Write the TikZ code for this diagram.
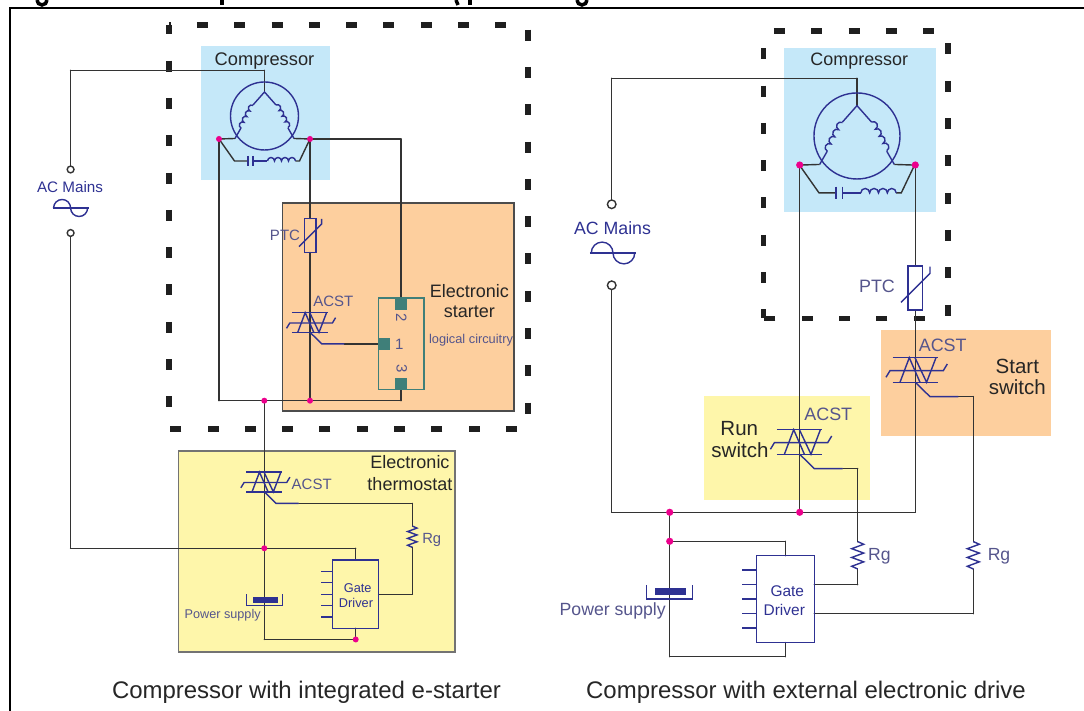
\documentclass[tikz,border=0pt]{standalone}
\usepackage{fontspec}
\setmainfont{Liberation Sans}
\RequirePackage{amsmath}
\RequirePackage{tikz}
\RequirePackage{tkz-euclide}

\definecolor{wirecol}{HTML}{333333}
\definecolor{symcol}{HTML}{2E3192}
\definecolor{labcol}{HTML}{55558C}
\definecolor{pinkdot}{HTML}{EC008C}
\definecolor{bluefill}{HTML}{C5E8F9}
\definecolor{orangefill}{HTML}{FDCF9E}
\definecolor{yellowfill}{HTML}{FEF6AA}
\definecolor{chipcol}{HTML}{3F7F79}

\tikzset{
  wire/.style={line width=.4pt,color=wirecol},
  sym/.style={line width=.4pt,color=symcol},
  boxdash/.style={line width=1.55pt,color=black!88},
  dark/.style={text=black!85,inner sep=0pt},
  slate/.style={text=labcol,inner sep=0pt},
  bluetext/.style={text=symcol,inner sep=0pt},
  sinewave/.pic={
    \draw[sym] (-.18,0) -- (.18,0);
    \draw[sym] (-.17,0) arc (180:0:.085) arc (180:360:.085);
  },
  zigzag/.pic={
    \draw[sym] (0,.137) -- (.06,.11) -- (-.06,.066) -- (.06,.022) -- (-.06,-.022) -- (.06,-.066) -- (-.06,-.11) -- (0,-.137);
  },
  thermistor/.pic={
    \draw[sym] (-.073,-.22) rectangle (.073,.22);
    \draw[sym] (-.143,-.143) -- (.147,.147) -- (.147,.213);
  },
  triac/.pic={
    \draw[sym] (-.227,.123) -- (.227,.123);
    \draw[sym] (-.227,-.123) -- (.227,-.123);
    \draw[sym] (-.153,-.123) -- (-.06,.123) -- (.047,-.123);
    \draw[sym] (.207,.123) -- (.113,-.123) -- (-.003,.123);
    \draw[sym] (-.293,-.073) -- (-.253,-.007) -- (.28,-.007) -- (.32,.06);
    \draw[sym] (0,-.123) -- (.147,-.267) -- (.43,-.267);
  },
  motor/.pic={
    \draw[sym] (0,0) circle (.34);
    \draw[sym] (-.115,.11) -- (0,.24) -- (.115,.11);
    \draw[sym] (-.235,-.12) arc (242:62:.032) arc (242:62:.032) arc (242:62:.032) arc (242:62:.032);
    \draw[sym] (.115,.11) arc (118:-62:.032) arc (118:-62:.032) arc (118:-62:.032) arc (118:-62:.032);
    \draw[sym] (-.235,-.12) -- (-.295,-.225);
    \draw[sym] (.235,-.12) -- (.295,-.225);
    \draw[wire] (-.455,-.23) -- (-.295,-.225);
    \draw[wire] (.455,-.23) -- (.295,-.225);
    \draw[wire] (-.455,-.23) -- (-.30,-.45) -- (-.165,-.45);
    \draw[wire] (.455,-.23) -- (.35,-.45) -- (.31,-.45);
    \draw[sym] (-.165,-.40) -- (-.165,-.50);
    \draw[sym] (-.115,-.40) -- (-.115,-.50);
    \draw[sym] (-.115,-.45) -- (.03,-.45);
    \draw[sym] (.03,-.45) arc (180:0:.035) arc (180:0:.035) arc (180:0:.035) arc (180:0:.035);
  }
}

\begin{document}
\begin{tikzpicture}
                \tkzInit[xmin=0,xmax=10.84,ymin=0,ymax=7.11]
                \tkzClip
                \useasboundingbox (0,0) rectangle (10.84,7.11);

                % coloured areas
                \fill[bluefill] (2.01,5.31) rectangle (3.30,6.65);
                \fill[bluefill] (7.84,4.993) rectangle (9.36,6.627);
                \filldraw[fill=orangefill,draw=black!70,line width=.45pt] (2.824,3.00) rectangle (5.14,5.077);
                \filldraw[fill=yellowfill,draw=black!55,line width=.45pt] (1.783,.59) rectangle (4.55,2.60);
                \fill[orangefill] (8.81,2.753) rectangle (10.51,3.81);
                \fill[yellowfill] (7.04,2.11) rectangle (8.70,3.15);

                % frame and what is left of the cut heading
                \draw[line width=.8pt,black] (.10,0) -- (.10,7.03) -- (10.84,7.03);
                \draw[line width=1pt,black] (.37,7.11) arc (180:360:.05);
                \draw[line width=1pt,black] (2.22,7.11) -- (2.22,7.06);
                \draw[line width=1pt,black] (4.56,7.11) -- (4.58,7.06);
                \draw[line width=1pt,black] (4.70,7.11) -- (4.70,7.06);
                \draw[line width=1pt,black] (5.77,7.11) arc (180:360:.05);

                % dashed enclosures
                \draw[boxdash,dash pattern=on 1.1mm off 2.63mm,dash phase=.93mm] (1.69,6.86) -- (5.28,6.86) -- (5.28,2.82) -- (1.69,2.82);
                \draw[boxdash,dash pattern=on 1.1mm off 2.63mm,dash phase=.16mm] (1.69,6.86) -- (1.69,2.82);
                \draw[boxdash,dash pattern=on 1.1mm off 2.63mm,dash phase=2.68mm] (7.635,6.80) -- (9.48,6.80) -- (9.48,3.925) -- (7.635,3.925);
                \draw[boxdash,dash pattern=on 1.1mm off 2.63mm,dash phase=2mm] (7.635,6.80) -- (7.635,3.925);

                % left circuit
                \tkzDefPoint(0.706,6.407){wA}
                \tkzDefPoint(2.645,6.407){wB}
                \tkzDefPoint(2.645,6.19){wC}
                \tkzDefPoint(0.706,5.415){tA}
                \tkzDefPoint(0.706,4.78){tB}
                \tkzDefPoint(0.706,1.627){wD}
                \tkzDefPoint(2.19,5.72){dA}
                \tkzDefPoint(3.10,5.72){dB}
                \tkzDefPoint(2.19,3.103){wE}
                \tkzDefPoint(4.01,3.103){wF}
                \tkzDefPoint(4.01,3.217){wG}
                \tkzDefPoint(4.01,5.72){wH}
                \tkzDefPoint(4.01,4.13){wI}
                \tkzDefPoint(3.10,4.925){pA}
                \tkzDefPoint(3.10,4.585){pB}
                \tkzDefPoint(3.10,3.103){dC}
                \tkzDefPoint(2.643,3.103){dD}
                \tkzDefPoint(3.444,3.67){gA}
                \tkzDefPoint(3.783,3.67){gB}
                \tkzDefPoint(2.643,1.627){dE}
                \tkzDefPoint(2.643,1.14){bA}
                \tkzDefPoint(2.643,1.083){bB}
                \tkzDefPoint(2.643,.715){wK}
                \tkzDefPoint(3.557,.715){dF}
                \tkzDefPoint(3.557,1.627){wL}
                \tkzDefPoint(3.557,1.51){wM}
                \tkzDefPoint(3.557,.827){wN}
                \tkzDefPoint(3.787,1.167){wO}
                \tkzDefPoint(4.123,1.167){wP}
                \tkzDefPoint(4.123,1.637){wQ}
                \tkzDefPoint(4.123,1.85){wR}
                \tkzDefPoint(4.123,2.076){wS}
                \tkzDefPoint(2.987,2.076){wT}

                \tkzDrawSegments[wire](tA,wA wA,wB wB,wC tB,wD wD,dE dE,wL wL,wM)
                \tkzDrawSegments[wire](dA,wE wE,wF wF,wG dB,wH wH,wI dB,pA pB,dC gA,gB)
                \tkzDrawSegments[wire](dD,bA bB,wK wK,dF wN,dF wO,wP wP,wQ wR,wS wS,wT)

                % chip with three pads
                \draw[chipcol,line width=.4pt] (3.783,3.217) rectangle (4.24,4.13);
                \fill[chipcol] (3.95,4.01) rectangle (4.073,4.13);
                \fill[chipcol] (3.783,3.61) rectangle (3.903,3.733);
                \fill[chipcol] (3.95,3.217) rectangle (4.073,3.333);

                % left symbols
                \pic[scale=1] at (2.645,5.95) {motor};
                \pic[scale=1] at (.706,5.03) {sinewave};
                \pic[scale=.78] at (3.102,4.755) {thermistor};
                \pic[scale=.8] at (3.10,3.885) {triac};
                \pic[scale=.8] at (2.643,2.29) {triac};
                \pic[scale=.78] at (4.123,1.743) {zigzag};
                \draw[sym] (3.323,.827) rectangle (3.787,1.51);
                \foreach \y in {1.397,1.283,1.167,1.053,.94}
                    \draw[sym] (3.21,\y) -- (3.323,\y);
                \fill[symcol] (2.527,1.083) rectangle (2.78,1.14);
                \draw[sym] (2.467,1.167) -- (2.467,1.053) -- (2.827,1.053) -- (2.827,1.167);

                % right circuit
                \tkzDefPoint(6.117,6.327){xA}
                \tkzDefPoint(8.57,6.327){xB}
                \tkzDefPoint(8.57,6.054){xC}
                \tkzDefPoint(6.117,5.067){tC}
                \tkzDefPoint(6.117,4.257){tD}
                \tkzDefPoint(6.117,1.987){xD}
                \tkzDefPoint(9.153,1.987){xE}
                \tkzDefPoint(7.997,5.46){dG}
                \tkzDefPoint(9.153,5.46){dH}
                \tkzDefPoint(7.997,1.987){dI}
                \tkzDefPoint(6.697,1.987){dJ}
                \tkzDefPoint(6.697,1.697){dK}
                \tkzDefPoint(9.153,4.45){pC}
                \tkzDefPoint(9.153,4.007){pD}
                \tkzDefPoint(9.583,3.143){xF}
                \tkzDefPoint(9.733,3.143){xG}
                \tkzDefPoint(9.733,1.693){xH}
                \tkzDefPoint(9.733,1.42){xI}
                \tkzDefPoint(9.733,.973){xJ}
                \tkzDefPoint(8.143,.973){xK}
                \tkzDefPoint(8.427,2.423){xL}
                \tkzDefPoint(8.577,2.423){xM}
                \tkzDefPoint(8.577,1.693){xN}
                \tkzDefPoint(8.577,1.42){xO}
                \tkzDefPoint(8.577,1.263){xP}
                \tkzDefPoint(8.143,1.263){xQ}
                \tkzDefPoint(6.697,1.227){bC}
                \tkzDefPoint(6.697,1.157){bD}
                \tkzDefPoint(6.697,.543){xR}
                \tkzDefPoint(7.853,.543){xS}
                \tkzDefPoint(7.853,.683){xT}
                \tkzDefPoint(7.853,1.697){xU}
                \tkzDefPoint(7.853,1.553){xV}

                \tkzDrawSegments[wire](tC,xA xA,xB xB,xC tD,xD xD,xE dG,dI dH,pC pD,xE)
                \tkzDrawSegments[wire](xF,xG xG,xH xI,xJ xJ,xK xL,xM xM,xN xO,xP xP,xQ)
                \tkzDrawSegments[wire](dJ,bC bD,xR xR,xS xS,xT dK,xU xU,xV)

                % right symbols
                \pic[scale=1.265] at (8.57,5.75) {motor};
                \pic[scale=1.28] at (6.13,4.58) {sinewave};
                \pic[scale=1] at (9.153,4.23) {thermistor};
                \pic[scale=1] at (9.153,3.41) {triac};
                \pic[scale=1] at (7.997,2.69) {triac};
                \pic[scale=1] at (8.577,1.557) {zigzag};
                \pic[scale=1] at (9.733,1.557) {zigzag};
                \draw[sym] (7.563,.683) rectangle (8.143,1.553);
                \foreach \y in {1.41,1.263,1.12,.973,.83}
                    \draw[sym] (7.423,\y) -- (7.563,\y);
                \fill[symcol] (6.547,1.157) rectangle (6.86,1.227);
                \draw[sym] (6.463,1.26) -- (6.463,1.12) -- (6.927,1.12) -- (6.927,1.26);

                % junctions and mains terminals
                \foreach \p in {dA,dB,dC,dD,dE,dF}
                    \fill[pinkdot] (\p) circle (.03);
                \foreach \p in {dG,dH,dI,dJ,dK}
                    \fill[pinkdot] (\p) circle (.036);
                \foreach \p in {tA,tB}
                    \filldraw[fill=white,draw=wirecol,line width=.4pt] (\p) circle (.034);
                \foreach \p in {tC,tD}
                    \filldraw[fill=white,draw=wirecol,line width=.4pt] (\p) circle (.043);

                % texts of the left drawing
                \node[dark,font=\fontsize{5.2}{6}\selectfont] (compL) at (2.645,6.50) {Compressor};
                \node[bluetext,font=\fontsize{4.33}{5}\selectfont] (mainsL) at (.70,5.24) {AC Mains};
                \node[slate,font=\fontsize{4.27}{5}\selectfont] (ptcL) at (2.85,4.76) {PTC};
                \node[slate,font=\fontsize{4.27}{5}\selectfont] (acstA) at (3.333,4.093) {ACST};
                \node[slate,font=\fontsize{4.27}{5}\selectfont] (acstB) at (3.117,2.267) {ACST};
                \node[dark,font=\fontsize{5.12}{6}\selectfont] (elecA) at (4.693,4.20) {Electronic};
                \node[dark,font=\fontsize{5.12}{6}\selectfont] (startA) at (4.693,3.99) {starter};
                \node[slate,font=\fontsize{3.64}{5}\selectfont] (logic) at (4.71,3.71) {logical circuitry};
                \node[slate,font=\fontsize{4.27}{5}\selectfont,rotate=-90] (padB) at (4.013,3.937) {2};
                \node[slate,font=\fontsize{4.27}{5}\selectfont] (padA) at (3.993,3.67) {1};
                \node[slate,font=\fontsize{4.27}{5}\selectfont,rotate=-90] (padC) at (4.017,3.427) {3};
                \node[dark,font=\fontsize{5.12}{6}\selectfont] (elecB) at (4.10,2.487) {Electronic};
                \node[dark,font=\fontsize{5.12}{6}\selectfont] (thermo) at (4.10,2.27) {thermostat};
                \node[slate,font=\fontsize{4.2}{5}\selectfont] (rgA) at (4.317,1.71) {Rg};
                \node[bluetext,font=\fontsize{3.63}{5}\selectfont] (gateA) at (3.577,1.227) {Gate};
                \node[bluetext,font=\fontsize{3.63}{5}\selectfont] (drvA) at (3.56,1.083) {Driver};
                \node[slate,font=\fontsize{3.6}{5}\selectfont] (psuA) at (2.227,.96) {Power supply};
                \node[dark,font=\fontsize{6.82}{8}\selectfont] (capL) at (3.065,.19) {Compressor with integrated e-starter};

                % texts of the right drawing
                \node[dark,font=\fontsize{5.1}{6}\selectfont] (compR) at (8.593,6.50) {Compressor};
                \node[bluetext,font=\fontsize{5.05}{6}\selectfont] (mainsR) at (6.125,4.83) {AC Mains};
                \node[slate,font=\fontsize{5.1}{6}\selectfont] (ptcR) at (8.77,4.243) {PTC};
                \node[slate,font=\fontsize{5.1}{6}\selectfont] (acstC) at (9.427,3.66) {ACST};
                \node[slate,font=\fontsize{5.1}{6}\selectfont] (acstD) at (8.283,2.97) {ACST};
                \node[dark,font=\fontsize{5.84}{7}\selectfont] (startB) at (10.173,3.443) {Start};
                \node[dark,font=\fontsize{5.84}{7}\selectfont] (swA) at (10.173,3.243) {switch};
                \node[dark,font=\fontsize{5.84}{7}\selectfont] (runB) at (7.393,2.827) {Run};
                \node[dark,font=\fontsize{5.84}{7}\selectfont] (swB) at (7.40,2.61) {switch};
                \node[slate,font=\fontsize{5}{6}\selectfont] (rgB) at (8.793,1.55) {Rg};
                \node[slate,font=\fontsize{5}{6}\selectfont] (rgC) at (9.99,1.55) {Rg};
                \node[bluetext,font=\fontsize{4.4}{5}\selectfont] (gateB) at (7.873,1.20) {Gate};
                \node[bluetext,font=\fontsize{4.4}{5}\selectfont] (drvB) at (7.843,1.01) {Driver};
                \node[slate,font=\fontsize{5.03}{6}\selectfont] (psuB) at (6.127,1.00) {Power supply};
                \node[dark,font=\fontsize{6.82}{8}\selectfont] (capR) at (8.06,.19) {Compressor with external electronic drive};
\end{tikzpicture}
\end{document}
